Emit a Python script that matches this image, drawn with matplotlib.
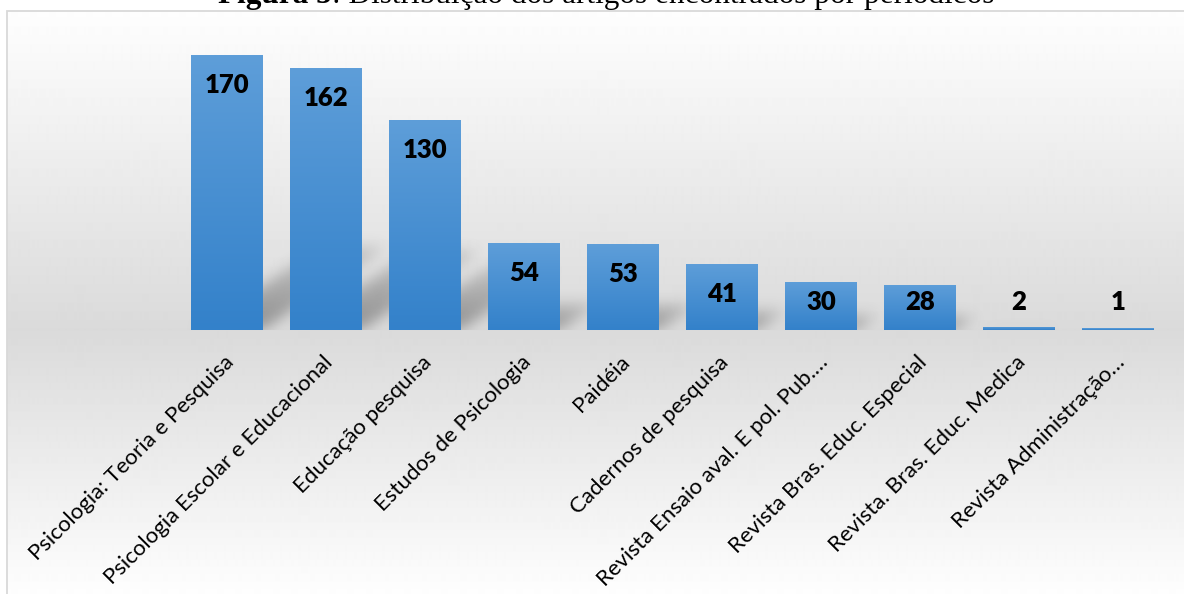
import numpy as np
import matplotlib
matplotlib.use('Agg')
import matplotlib.pyplot as plt
from matplotlib.patches import Rectangle
from matplotlib.colors import LinearSegmentedColormap
import matplotlib.transforms as mtransforms

# data
periodicos = ['Psicologia: Teoria e Pesquisa', 'Psicologia Escolar e Educacional',
              'Educação pesquisa', 'Estudos de Psicologia', 'Paidéia',
              'Cadernos de pesquisa', 'Revista Ensaio aval. E pol. Pub.…',
              'Revista Bras. Educ. Especial', 'Revista. Bras. Educ. Medica',
              'Revista Administração…']
artigos = [170, 162, 130, 54, 53, 41, 30, 28, 2, 1]

titulo_bold = 'Figura 5'
titulo_resto = ': Distribuição dos artigos encontrados por periódicos'

# colors
BAR_TOP = '#5e9ed9'
BAR_BOTTOM = '#3381ca'
FRAME = '#d9d9d9'

W, H = 1184, 594
fig = plt.figure(figsize=(W / 100, H / 100), dpi=100)

# background with grey band at the baseline
bg = fig.add_axes([0, 0, 1, 1], zorder=0)
bg.axis('off')
rows = np.arange(11, H)
shade = np.interp(rows, [11, 330, H], [0.995, 0.855, 0.995])
grad = np.repeat(shade[:, None], 2, axis=1)
bg.imshow(grad, cmap='gray', vmin=0, vmax=1, extent=(7, W + 20, 0, H - 11),
          origin='upper', aspect='auto', interpolation='bilinear')
bg.add_patch(Rectangle((7, -30), W + 60, H - 11 + 30, fill=False,
                       edgecolor=FRAME, lw=1.3))
bg.set_xlim(0, W)
bg.set_ylim(0, H)

# title (cut at the top like the source)
t1 = fig.text(218 / W, 1 - 10 / H, titulo_bold, fontsize=22.5, fontweight='bold',
              family='Liberation Serif', ha='left', va='bottom')
bg.annotate(titulo_resto, xy=(1, 0), xycoords=t1, fontsize=22.5,
            family='Liberation Serif', ha='left', va='bottom')

# main axes
ax = fig.add_axes([177 / W, (H - 330) / H, (1167.5 - 177) / W, 291 / H], zorder=1)
ax.patch.set_alpha(0)
x = np.arange(len(artigos))
largura = 0.72

# shadows behind the bars
ax_px_y = 291 / 180
ys = np.linspace(-20, 110, int(130 * ax_px_y))
xs = np.linspace(-0.5, 9.5, 990)
XX, YY = np.meshgrid(xs, ys)
sombra = np.zeros_like(XX)
s = 1.5 * ax_px_y / 99.0
for xc, v in zip(x, artigos):
    topo = 0.3 * v
    x0 = xc - largura / 2 + 0.05
    x1 = xc + largura / 2
    m = (YY >= 0) & (YY <= topo) & (XX >= x0 + s * YY) & (XX <= x1 + s * YY)
    fade = 1 - 0.6 * np.clip(YY / topo, 0, 1)
    sombra = np.maximum(sombra, m * fade)

k = np.exp(-0.5 * (np.arange(-20, 21) / 7.0) ** 2)
k /= k.sum()
sombra = np.apply_along_axis(lambda r: np.convolve(r, k, mode='same'), 1, sombra)
sombra = np.apply_along_axis(lambda c: np.convolve(c, k, mode='same'), 0, sombra)
rgba = np.zeros(sombra.shape + (4,))
rgba[..., :3] = 0.2
rgba[..., 3] = 0.45 * sombra
ax.imshow(rgba, extent=(xs[0], xs[-1], ys[0], ys[-1]), origin='lower',
          aspect='auto', zorder=1, interpolation='bilinear')

# bars with vertical gradient
barras = ax.bar(x, artigos, width=largura, color='none', edgecolor='none', zorder=3)
cmap_bar = LinearSegmentedColormap.from_list('barra', [BAR_BOTTOM, BAR_TOP])
gbar = np.linspace(0, 1, 256)[:, None]
for b in barras:
    im = ax.imshow(gbar, cmap=cmap_bar, origin='lower', aspect='auto',
                   extent=(b.get_x(), b.get_x() + b.get_width(), 0, b.get_height()),
                   zorder=3)
    im.set_clip_path(b)

ax.set_xlim(-0.5, 9.5)
ax.set_ylim(0, 180)
for sp in ax.spines.values():
    sp.set_visible(False)
ax.set_xticks([])
ax.set_yticks([])

# value labels
for xc, v in zip(x, artigos):
    ax.text(xc, max(v - 18.5, 17.3), str(v), ha='center', va='center',
            fontsize=18.5, fontweight='heavy', family='Lato', zorder=5)

# category labels
off = mtransforms.ScaledTranslation(4 / 100, -29 / 100, fig.dpi_scale_trans)
for xc, nome in zip(x, periodicos):
    ax.text(xc, 0, nome, rotation=45, rotation_mode='anchor', ha='right',
            va='center', fontsize=16, family='Lato',
            transform=ax.transData + off, clip_on=False)

fig.savefig('out.png', dpi=100)
